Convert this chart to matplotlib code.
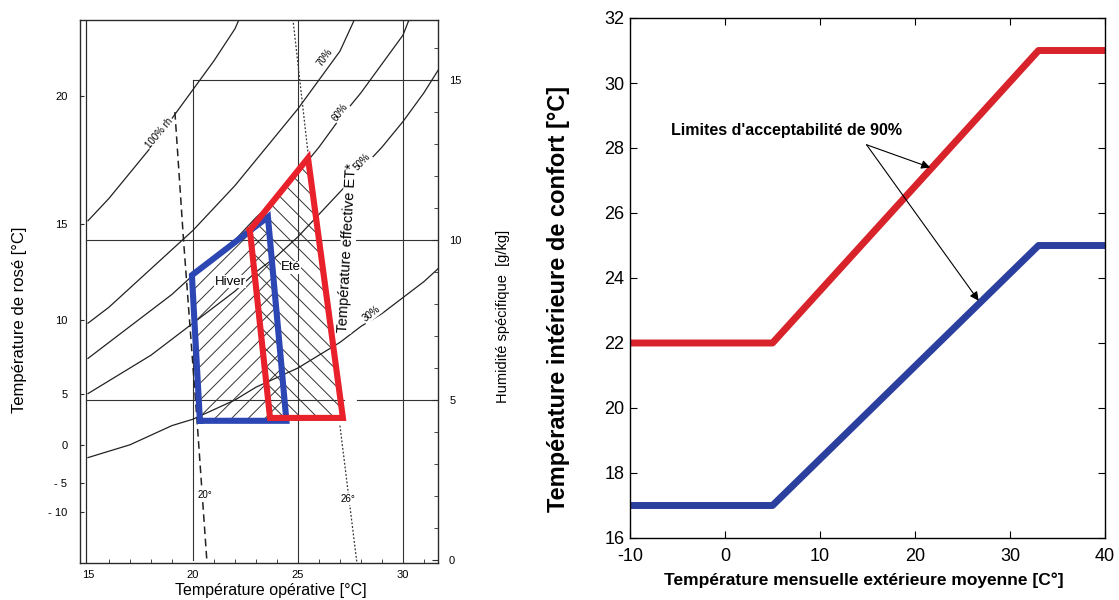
import matplotlib.pyplot as plt
from matplotlib.ticker import MultipleLocator

plt.rcParams['font.family'] = ['Liberation Sans', 'DejaVu Sans']
plt.rcParams['axes.unicode_minus'] = False

W, H = 1119, 600

# ---------------- left panel data ----------------
# relative humidity curves: operative temperature [°C] -> specific humidity [g/kg]
rh100_t = [15, 16, 17, 18, 19, 20, 21, 22, 22.2]
rh100_h = [10.6, 11.3, 12.1, 12.9, 13.8, 14.7, 15.6, 16.6, 16.9]
rh70_t = [15, 16, 17, 18, 19, 20, 21, 22, 23, 24, 25, 26, 27, 27.7]
rh70_h = [7.4, 7.9, 8.5, 9.1, 9.7, 10.3, 11.0, 11.7, 12.5, 13.3, 14.1, 15.0, 15.9, 16.9]
rh60_t = [15, 16, 17, 18, 19, 20, 21, 22, 23, 24, 25, 26, 27, 28, 29, 30, 30.3]
rh60_h = [6.3, 6.8, 7.3, 7.8, 8.3, 8.9, 9.4, 10.0, 10.7, 11.3, 12.1, 12.9, 13.8, 14.6, 15.5, 16.4, 16.9]
rh50_t = [15, 16, 17, 18, 19, 20, 21, 22, 23, 24, 25, 26, 27, 28, 29, 30, 31, 31.67]
rh50_h = [5.2, 5.6, 6.0, 6.4, 6.9, 7.4, 7.9, 8.4, 9.0, 9.5, 10.1, 10.8, 11.5, 12.2, 12.9, 13.7, 14.6, 15.3]
rh30_t = [15, 16, 17, 18, 19, 20, 21, 22, 23, 24, 25, 26, 27, 28, 29, 30, 31, 31.67]
rh30_h = [3.2, 3.4, 3.6, 3.9, 4.2, 4.4, 4.7, 5.0, 5.4, 5.7, 6.0, 6.4, 6.8, 7.3, 7.7, 8.2, 8.7, 9.1]

rh_text = ['100% rh', '70%', '60%', '50%', '30%']
rh_text_t = [18.4, 26.3, 27.0, 28.05, 28.5]
rh_text_h = [13.35, 15.7, 14.0, 12.45, 7.7]
rh_text_rot = [50, 54, 53, 47, 38]

# effective temperature lines
et20_t = [19.14, 19.55, 20.2, 20.67]
et20_h = [14.0, 10.0, 4.3, -0.1]
et26_top_t = [24.76, 25.5]
et26_top_h = [16.9, 12.6]
et26_bot_t = [27.0, 27.81]
et26_bot_h = [4.2, -0.1]

# comfort zones
hiver_t = [20.33, 19.95, 23.57, 24.45, 20.33]
hiver_h = [4.35, 8.9, 10.72, 4.35, 4.35]
ete_t = [22.71, 25.48, 27.14, 23.67, 22.71]
ete_h = [10.31, 12.56, 4.44, 4.44, 10.31]

# dew point scale (left) and specific humidity scale (right)
dew_labels = ['20', '15', '10', '5', '0', '- 5', '- 10']
dew_pos = [14.5, 10.5, 7.5, 5.2, 3.6, 2.4, 1.5]
hum_ticks = [0, 5, 10, 15]
top_ticks = [15, 20, 25, 30]

# ---------------- right panel data ----------------
t_ext = [-10, 5, 33, 40]
t_upper = [22, 22, 31, 31]
t_lower = [17, 17, 25, 25]

fig = plt.figure(figsize=(W / 100, H / 100), dpi=100)


def box(x0, y0, x1, y1):
    return [x0 / W, 1 - y1 / H, (x1 - x0) / W, (y1 - y0) / H]


# ================= left panel =================
ax1 = fig.add_axes(box(80, 20, 438, 563))
ax1.set_xlim(14.62, 31.67)
ax1.set_ylim(-0.094, 16.875)
for s in ax1.spines.values():
    s.set_linewidth(1.0)
    s.set_color('#2a2a2a')
ax1.axvline(14.9, color='#2a2a2a', lw=0.9)

# reference lines
gc = '#333333'
ax1.plot([20, 20], [0, 15], color=gc, lw=0.8)
ax1.plot([20, 31.67], [15, 15], color=gc, lw=0.8)
ax1.axvline(25, color=gc, lw=0.8)
ax1.axvline(30, color=gc, lw=0.8)
ax1.plot([14.9, 31.67], [10, 10], color=gc, lw=0.8)
ax1.plot([14.9, 27.2], [5, 5], color=gc, lw=0.8)
ax1.plot([27.8, 31.67], [5, 5], color=gc, lw=0.8)

for t, h in [(rh100_t, rh100_h), (rh70_t, rh70_h), (rh60_t, rh60_h),
             (rh50_t, rh50_h), (rh30_t, rh30_h)]:
    ax1.plot(t, h, color='#222222', lw=0.9)

for txt, t, h, r in zip(rh_text, rh_text_t, rh_text_h, rh_text_rot):
    ax1.text(t, h, txt, rotation=r, fontsize=7, ha='center', va='center',
             rotation_mode='anchor', zorder=6,
             bbox=dict(facecolor='white', edgecolor='none', pad=0.6))

ax1.plot(et20_t, et20_h, color='#222222', lw=1.1, ls=(0, (5, 3)))
ax1.plot(et26_top_t, et26_top_h, color='#333333', lw=0.9, ls=(0, (1.5, 1.5)))
ax1.plot(et26_bot_t, et26_bot_h, color='#333333', lw=0.9, ls=(0, (1.5, 1.5)))
ax1.text(20.57, 2.03, '20°', fontsize=7, ha='center', va='center',
         bbox=dict(facecolor='white', edgecolor='none', pad=0.8))
ax1.text(27.4, 1.9, '26°', fontsize=7, ha='center', va='center',
         bbox=dict(facecolor='white', edgecolor='none', pad=0.8))

# hatched comfort zones
plt.rcParams['hatch.linewidth'] = 0.7
ax1.fill(hiver_t, hiver_h, facecolor='none', edgecolor='#333333',
         hatch='//', linewidth=0)
ax1.fill(ete_t, ete_h, facecolor='none', edgecolor='#333333',
         hatch='\\\\', linewidth=0)
ax1.plot(hiver_t, hiver_h, color='#2c47b3', lw=4.4, solid_joinstyle='miter',
         zorder=7)
ax1.plot(ete_t, ete_h, color='#e8212b', lw=4.4, solid_joinstyle='miter',
         zorder=8)

ax1.text(21.76, 8.7, 'Hiver', fontsize=9.5, ha='center', va='center',
         bbox=dict(facecolor='white', edgecolor='none', pad=0.3))
ax1.text(24.67, 9.15, 'Eté', fontsize=9.5, ha='center', va='center',
         bbox=dict(facecolor='white', edgecolor='none', pad=0.3))
ax1.text(27.38, 9.75, 'Température effective ET*', fontsize=10.5, rotation=87,
         ha='center', va='center', zorder=5,
         bbox=dict(facecolor='white', edgecolor='none', pad=0.5))

ax1.set_xticks(top_ticks)
ax1.set_xticklabels([str(v) for v in top_ticks])
ax1.xaxis.set_minor_locator(MultipleLocator(1))
ax1.tick_params(axis='x', which='both', direction='in', labelsize=8, pad=5,
                color='#2a2a2a')
ax1.tick_params(axis='x', which='major', length=0)
ax1.tick_params(axis='x', which='minor', length=3)
ax1.set_yticks(dew_pos)
ax1.set_yticklabels(dew_labels)
ax1.tick_params(axis='y', direction='in', length=3, labelsize=8, pad=9,
                color='#2a2a2a')

ax1r = ax1.twinx()
ax1r.set_ylim(ax1.get_ylim())
ax1r.set_yticks(hum_ticks)
ax1r.set_yticklabels([str(v) for v in hum_ticks])
ax1r.yaxis.set_minor_locator(MultipleLocator(1))
ax1r.tick_params(axis='y', which='both', direction='in', labelsize=8, pad=8,
                 color='#2a2a2a')
ax1r.tick_params(axis='y', which='major', length=4)
ax1r.tick_params(axis='y', which='minor', length=3)
for s in ax1r.spines.values():
    s.set_visible(False)

fig.text(20 / W, 1 - 320 / H, 'Température de rosé [°C]', rotation=90,
         ha='center', va='center', fontsize=12)
fig.text(503 / W, 1 - 316 / H, 'Humidité spécifique  [g/kg]', rotation=90,
         ha='center', va='center', fontsize=10.5)
fig.text(271 / W, 1 - 591 / H, 'Température opérative [°C]',
         ha='center', va='center', fontsize=11.5)

# ================= right panel =================
ax2 = fig.add_axes(box(630, 18, 1105, 538))
ax2.plot(t_ext, t_upper, color='#d8232a', lw=5, solid_capstyle='butt')
ax2.plot(t_ext, t_lower, color='#2b3f9e', lw=5, solid_capstyle='butt')
ax2.set_xlim(-10, 40)
ax2.set_ylim(16, 32)
ax2.set_xticks(range(-10, 41, 10))
ax2.set_yticks(range(16, 33, 2))
ax2.tick_params(direction='in', top=True, right=True, length=5,
                labelsize=13)
ax2.tick_params(axis='x', pad=7)
ax2.tick_params(axis='y', pad=4)
for s in ax2.spines.values():
    s.set_linewidth(1.0)

ax2.text(6.5, 28.55, "Limites d'acceptabilité de 90%", ha='center',
         va='center', fontsize=11.5, fontweight='bold')
arrow = dict(arrowstyle='-|>', color='black', lw=0.8, mutation_scale=13,
             shrinkA=0, shrinkB=0)
ax2.annotate('', xy=(21.6, 27.4), xytext=(14.9, 28.1), arrowprops=arrow)
ax2.annotate('', xy=(26.7, 23.3), xytext=(14.9, 28.1), arrowprops=arrow)

fig.text(558 / W, 1 - 299 / H, 'Température intérieure de confort [°C]',
         rotation=90, ha='center', va='center', fontsize=17,
         fontweight='bold')
fig.text(864 / W, 1 - 580 / H, 'Température mensuelle extérieure moyenne [C°]',
         ha='center', va='center', fontsize=12.5, fontweight='bold')

fig.savefig('out.png', dpi=100)
